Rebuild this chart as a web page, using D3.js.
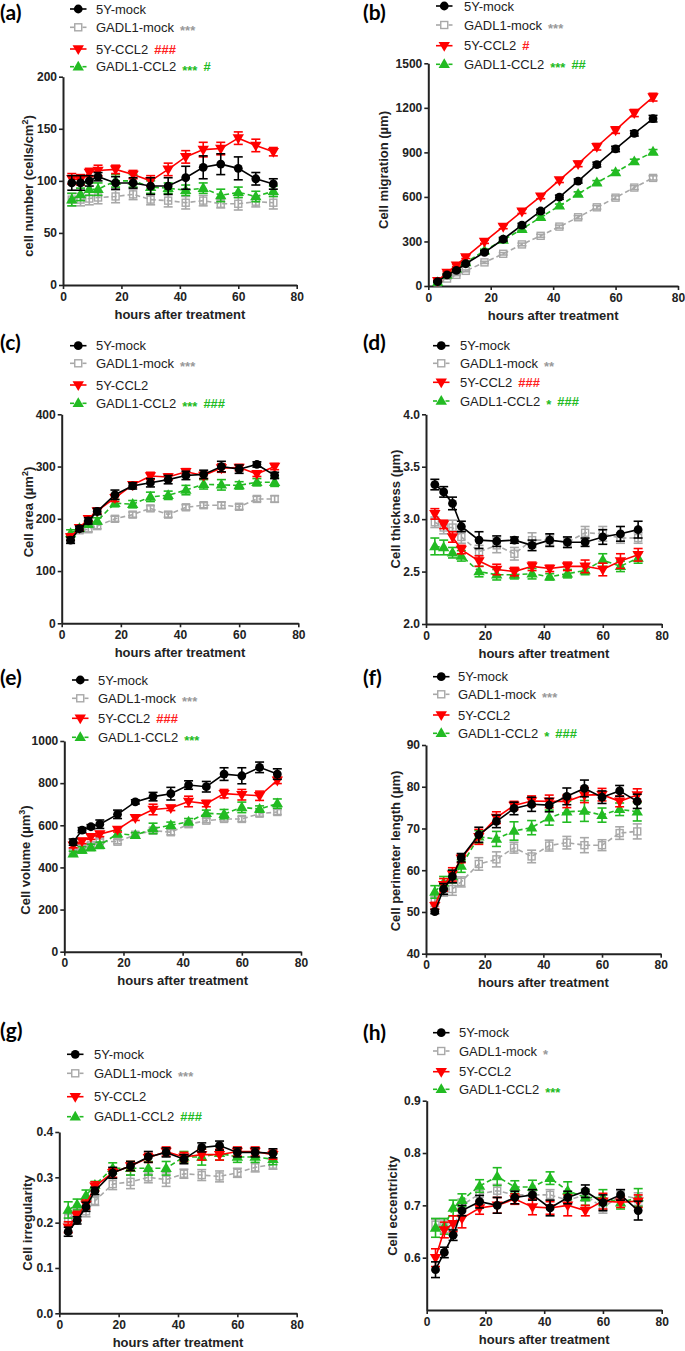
<!DOCTYPE html>

<head>
  <meta charset="utf-8">
  <title></title>
</head>
<style media="screen">
  body {
    margin: 0;
    background: white;
  }
  text {
    font-family: Arial, "Liberation Sans", Helvetica, sans-serif;
  }
  .axisTitle {
    font-weight: bold;
    font-size: 13px;
  }
  text.panelLabel {
    font-family: Lato, "Open Sans", sans-serif;
    font-weight: bold;
    font-size: 21px;
  }
  .legend text {
    font-size: 13px;
  }
</style>

<body>
  <svg id="fig" width="685" height="1351"></svg>
  <script src="https://d3js.org/d3.v7.min.js"></script>
  <script type="text/javascript">
    // time points (hours after treatment)
    var hours = [3, 6, 9, 12, 18, 24, 30, 36, 42, 48, 54, 60, 66, 72]
    var xTicks = [0, 20, 40, 60, 80]
    var seriesNames = ["5Y-mock", "GADL1-mock", "5Y-CCL2", "GADL1-CCL2"]

    // (a) cell number
    var aMock5Y = [98, 98, 100, 104, 98, 98, 95, 95, 103, 113, 116, 112, 102, 97]
    var aMockGADL = [82, 82, 83, 84, 85, 87, 82, 81, 79, 81, 78, 78, 80, 79]
    var aCcl5Y = [102, 101, 108, 110, 111, 106, 100, 111, 123, 130, 131, 141, 134, 128]
    var aCclGADL = [82, 87, 92, 92, 100, 100, 94, 93, 91, 93, 86, 89, 85, 90]
    var aErrMock5Y = [7, 7, 5, 4, 6, 5, 8, 8, 11, 11, 10, 11, 6, 5]
    var aErrMockGADL = [6, 6, 6, 6, 6, 5, 5, 6, 6, 5, 4, 6, 5, 6]
    var aErrCcl5Y = [5, 5, 4, 5, 4, 4, 5, 6, 6, 7, 6, 6, 6, 4]
    var aErrCclGADL = [6, 6, 6, 6, 6, 6, 6, 5, 5, 5, 6, 5, 5, 5]
    var aSig = ["", "***", "###", "*** #"]

    // (b) cell migration
    var bMock5Y = [30, 75, 105, 150, 227, 315, 410, 505, 598, 707, 818, 923, 1028, 1127]
    var bMockGADL = [25, 50, 75, 102, 159, 217, 280, 338, 400, 463, 530, 595, 663, 728]
    var bCcl5Y = [35, 90, 140, 195, 299, 400, 503, 604, 713, 822, 938, 1050, 1165, 1272]
    var bCclGADL = [25, 75, 117, 158, 238, 310, 383, 463, 540, 620, 696, 765, 838, 903]
    var bErrMock5Y = [4, 5, 6, 8, 10, 12, 12, 12, 14, 14, 16, 18, 18, 22]
    var bErrMockGADL = [3, 4, 5, 6, 7, 8, 9, 10, 10, 11, 12, 12, 13, 14]
    var bErrCcl5Y = [5, 6, 8, 10, 12, 14, 14, 16, 16, 18, 22, 22, 24, 26]
    var bErrCclGADL = [4, 5, 6, 8, 10, 10, 12, 12, 12, 14, 14, 14, 16, 16]
    var bSig = ["", "***", "#", "*** ##"]

    // (c) cell area
    var cMock5Y = [159, 181, 196, 214, 246, 263, 269, 275, 283, 285, 300, 295, 304, 283]
    var cMockGADL = [160, 178, 180, 186, 200, 208, 220, 208, 222, 226, 226, 223, 238, 238]
    var cCcl5Y = [165, 183, 200, 215, 240, 265, 282, 280, 290, 283, 297, 298, 286, 300]
    var cCclGADL = [172, 182, 190, 196, 230, 228, 242, 245, 255, 266, 265, 264, 270, 270]
    var cErrMock5Y = [6, 5, 6, 6, 9, 6, 8, 8, 8, 8, 10, 8, 5, 6]
    var cErrMockGADL = [5, 5, 5, 5, 5, 5, 5, 5, 5, 5, 6, 5, 5, 6]
    var cErrCcl5Y = [6, 5, 5, 5, 7, 5, 7, 6, 6, 6, 8, 6, 5, 6]
    var cErrCclGADL = [7, 6, 6, 6, 7, 7, 9, 8, 9, 9, 10, 7, 7, 8]
    var cSig = ["", "***", "", "*** ###"]

    // (d) cell thickness
    var dMock5Y = [3.33, 3.26, 3.15, 2.93, 2.80, 2.79, 2.80, 2.75, 2.80, 2.78, 2.78, 2.83, 2.86, 2.90]
    var dMockGADL = [2.97, 2.92, 2.92, 2.83, 2.69, 2.75, 2.67, 2.80, 2.80, 2.78, 2.87, 2.86, 2.82, 2.82]
    var dCcl5Y = [3.05, 2.95, 2.83, 2.71, 2.60, 2.52, 2.50, 2.55, 2.53, 2.55, 2.55, 2.52, 2.60, 2.66]
    var dCclGADL = [2.74, 2.73, 2.68, 2.65, 2.50, 2.47, 2.47, 2.48, 2.45, 2.48, 2.51, 2.61, 2.55, 2.63]
    var dErrMock5Y = [0.05, 0.05, 0.06, 0.05, 0.08, 0.05, 0.03, 0.05, 0.06, 0.05, 0.04, 0.07, 0.07, 0.08]
    var dErrMockGADL = [0.05, 0.06, 0.07, 0.06, 0.06, 0.07, 0.06, 0.07, 0.05, 0.05, 0.06, 0.07, 0.05, 0.05]
    var dErrCcl5Y = [0.05, 0.04, 0.05, 0.04, 0.05, 0.05, 0.04, 0.04, 0.03, 0.04, 0.06, 0.06, 0.07, 0.06]
    var dErrCclGADL = [0.08, 0.07, 0.05, 0.05, 0.05, 0.05, 0.04, 0.05, 0.03, 0.04, 0.04, 0.06, 0.05, 0.05]
    var dSig = ["", "**", "###", "* ###"]

    // (e) cell volume
    var eMock5Y = [520, 577, 593, 605, 652, 711, 736, 750, 791, 783, 843, 835, 875, 843]
    var eMockGADL = [475, 495, 505, 525, 522, 555, 575, 567, 605, 622, 630, 630, 655, 663]
    var eCcl5Y = [505, 525, 545, 558, 580, 635, 675, 682, 713, 703, 750, 745, 740, 813]
    var eCclGADL = [465, 483, 495, 505, 560, 553, 585, 600, 617, 657, 653, 685, 677, 703]
    var eErrMock5Y = [15, 12, 10, 20, 20, 10, 20, 30, 20, 25, 30, 38, 25, 25]
    var eErrMockGADL = [12, 10, 10, 10, 10, 10, 12, 12, 12, 10, 10, 12, 12, 12]
    var eErrCcl5Y = [12, 12, 12, 12, 12, 12, 25, 12, 25, 15, 20, 25, 22, 15]
    var eErrCclGADL = [12, 15, 15, 15, 15, 12, 25, 15, 15, 15, 22, 25, 15, 22]
    var eSig = ["", "***", "###", "***"]

    // (f) cell perimeter length
    var fMock5Y = [50.1, 55.5, 58.5, 63, 68.5, 71.7, 74.8, 75.8, 75.6, 77.7, 79.6, 77.5, 79, 76.5]
    var fMockGADL = [52.5, 55.3, 55.5, 57.2, 61.5, 62.6, 65.4, 63.3, 65.9, 66.6, 66, 66, 68.9, 69.3]
    var fCcl5Y = [51.5, 56.5, 59, 62.8, 68, 72.6, 75.5, 76.6, 76.5, 76.5, 78, 78.1, 76.5, 78]
    var fCclGADL = [54.8, 57, 58.5, 61, 68, 67.5, 69.4, 70.2, 72.6, 74, 74.2, 73.2, 74.6, 74]
    var fErrMock5Y = [0.5, 1.3, 1.5, 1.0, 1.8, 1.5, 1.5, 1.7, 1.6, 2.0, 2.0, 1.5, 1.3, 1.7]
    var fErrMockGADL = [1.2, 1.5, 1.5, 1.2, 1.5, 1.8, 1.3, 1.5, 1.3, 1.5, 1.8, 1.3, 1.5, 1.8]
    var fErrCcl5Y = [0.8, 1.5, 1.6, 1.0, 1.8, 1.4, 1.0, 1.2, 1.5, 1.5, 1.8, 1.5, 1.3, 1.5]
    var fErrCclGADL = [1.5, 1.5, 1.5, 1.5, 1.5, 1.8, 2.2, 1.7, 1.8, 2.5, 2.5, 1.7, 1.5, 2.2]
    var fSig = ["", "***", "", "* ###"]

    // (g) cell irregularity
    var gMock5Y = [0.18, 0.205, 0.235, 0.27, 0.31, 0.325, 0.345, 0.355, 0.34, 0.366, 0.37, 0.355, 0.355, 0.353]
    var gMockGADL = [0.21, 0.22, 0.225, 0.248, 0.285, 0.29, 0.30, 0.295, 0.308, 0.305, 0.302, 0.31, 0.322, 0.328]
    var gCcl5Y = [0.19, 0.215, 0.24, 0.28, 0.31, 0.325, 0.343, 0.357, 0.345, 0.35, 0.35, 0.357, 0.357, 0.35]
    var gCclGADL = [0.228, 0.24, 0.26, 0.283, 0.32, 0.32, 0.32, 0.32, 0.345, 0.345, 0.353, 0.345, 0.345, 0.34]
    var gErrMock5Y = [0.01, 0.008, 0.01, 0.008, 0.012, 0.01, 0.012, 0.01, 0.01, 0.01, 0.01, 0.01, 0.01, 0.01]
    var gErrMockGADL = [0.01, 0.012, 0.012, 0.01, 0.012, 0.015, 0.012, 0.015, 0.01, 0.012, 0.012, 0.01, 0.01, 0.01]
    var gErrCcl5Y = [0.012, 0.01, 0.01, 0.01, 0.01, 0.01, 0.01, 0.01, 0.01, 0.012, 0.012, 0.01, 0.01, 0.01]
    var gErrCclGADL = [0.018, 0.012, 0.012, 0.008, 0.012, 0.015, 0.015, 0.015, 0.012, 0.018, 0.015, 0.012, 0.012, 0.012]
    var gSig = ["", "***", "", "###"]

    // (h) cell eccentricity
    var hMock5Y = [0.577, 0.61, 0.643, 0.69, 0.707, 0.70, 0.715, 0.72, 0.695, 0.715, 0.727, 0.705, 0.72, 0.69]
    var hMockGADL = [0.663, 0.66, 0.655, 0.70, 0.722, 0.728, 0.72, 0.72, 0.72, 0.71, 0.72, 0.695, 0.72, 0.712]
    var hCcl5Y = [0.60, 0.653, 0.665, 0.675, 0.695, 0.70, 0.712, 0.697, 0.695, 0.70, 0.69, 0.708, 0.706, 0.708]
    var hCclGADL = [0.657, 0.66, 0.695, 0.71, 0.737, 0.755, 0.735, 0.735, 0.752, 0.728, 0.715, 0.715, 0.705, 0.715]
    var hErrMock5Y = [0.015, 0.01, 0.01, 0.01, 0.012, 0.015, 0.012, 0.01, 0.015, 0.012, 0.012, 0.015, 0.01, 0.018]
    var hErrMockGADL = [0.01, 0.012, 0.012, 0.012, 0.012, 0.012, 0.01, 0.01, 0.01, 0.01, 0.012, 0.01, 0.01, 0.012]
    var hErrCcl5Y = [0.017, 0.015, 0.015, 0.018, 0.012, 0.015, 0.01, 0.015, 0.012, 0.02, 0.01, 0.015, 0.01, 0.012]
    var hErrCclGADL = [0.018, 0.015, 0.015, 0.012, 0.012, 0.017, 0.012, 0.013, 0.012, 0.017, 0.015, 0.015, 0.012, 0.017]
    var hSig = ["", "*", "", "***"]

    // look of the four groups, same order as seriesNames
    var styles = [
      { color: "#000000", sig: "#000000", dash: null, shape: "circle" },
      { color: "#a8a8a8", sig: "#999999", dash: "5,3", shape: "square" },
      { color: "#ff0000", sig: "#ff2020", dash: null, shape: "down" },
      { color: "#22bb22", sig: "#22bb22", dash: "5,3", shape: "up" }
    ]

    var panels = [
      { label: "(a)", lx: 0, ly: 20, vals: [aMock5Y, aMockGADL, aCcl5Y, aCclGADL], errs: [aErrMock5Y, aErrMockGADL, aErrCcl5Y, aErrCclGADL], sig: aSig,
        dom: [0, 200], ticks: [0, 50, 100, 150, 200], fmt: d3.format("d"), yTitle: ["cell number (cells/cm", "2", ")"],
        x0: 63, x1: 296.7, y0: 76.7, y1: 285, ytX: 28, ytY: 186, legLine: 70, legText: 96, legY: [9, 27.3, 49, 66.7] },
      { label: "(b)", lx: 363, ly: 20, vals: [bMock5Y, bMockGADL, bCcl5Y, bCclGADL], errs: [bErrMock5Y, bErrMockGADL, bErrCcl5Y, bErrCclGADL], sig: bSig,
        dom: [0, 1500], ticks: [0, 300, 600, 900, 1200, 1500], fmt: d3.format("d"), yTitle: ["Cell migration (\u00b5m)"],
        x0: 428.3, x1: 678, y0: 63.3, y1: 286, ytX: 383, ytY: 170, legLine: 436, legText: 464, legY: [6, 25, 45.7, 64.3] },
      { label: "(c)", lx: 0, ly: 350, vals: [cMock5Y, cMockGADL, cCcl5Y, cCclGADL], errs: [cErrMock5Y, cErrMockGADL, cErrCcl5Y, cErrCclGADL], sig: cSig,
        dom: [0, 400], ticks: [0, 100, 200, 300, 400], fmt: d3.format("d"), yTitle: ["Cell area (\u00b5m", "2", ")"],
        x0: 61.7, x1: 298.3, y0: 414.3, y1: 623.3, ytX: 28, ytY: 512, legLine: 70, legText: 96, legY: [345.7, 363.3, 385, 403.3] },
      { label: "(d)", lx: 363, ly: 350, vals: [dMock5Y, dMockGADL, dCcl5Y, dCclGADL], errs: [dErrMock5Y, dErrMockGADL, dErrCcl5Y, dErrCclGADL], sig: dSig,
        dom: [2, 4], ticks: [2, 2.5, 3, 3.5, 4], fmt: d3.format(".1f"), yTitle: ["Cell thickness (\u00b5m)"],
        x0: 426, x1: 661.7, y0: 414.3, y1: 624, ytX: 395, ytY: 509, legLine: 433, legText: 460, legY: [345.7, 363.3, 382.3, 401] },
      { label: "(e)", lx: 0, ly: 685, vals: [eMock5Y, eMockGADL, eCcl5Y, eCclGADL], errs: [eErrMock5Y, eErrMockGADL, eErrCcl5Y, eErrCclGADL], sig: eSig,
        dom: [0, 1000], ticks: [0, 200, 400, 600, 800, 1000], fmt: d3.format("d"), yTitle: ["Cell volume (\u00b5m", "3", ")"],
        x0: 64.3, x1: 301, y0: 741, y1: 951.7, ytX: 25, ytY: 860, legLine: 72, legText: 98, legY: [680, 698.3, 718.3, 737.3] },
      { label: "(f)", lx: 363, ly: 685, vals: [fMock5Y, fMockGADL, fCcl5Y, fCclGADL], errs: [fErrMock5Y, fErrMockGADL, fErrCcl5Y, fErrCclGADL], sig: fSig,
        dom: [40, 90], ticks: [40, 50, 60, 70, 80, 90], fmt: d3.format("d"), yTitle: ["Cell perimeter length (\u00b5m)"],
        x0: 426, x1: 660.7, y0: 745, y1: 953.7, ytX: 395, ytY: 851, legLine: 433, legText: 458, legY: [676.7, 694.3, 715, 733.3] },
      { label: "(g)", lx: 0, ly: 1038, vals: [gMock5Y, gMockGADL, gCcl5Y, gCclGADL], errs: [gErrMock5Y, gErrMockGADL, gErrCcl5Y, gErrCclGADL], sig: gSig,
        dom: [0, 0.4], ticks: [0, 0.1, 0.2, 0.3, 0.4], fmt: d3.format(".1f"), yTitle: ["Cell irregularity"],
        x0: 59.3, x1: 296.7, y0: 1132, y1: 1313.3, ytX: 27, ytY: 1223, legLine: 67, legText: 94, legY: [1054.3, 1073.3, 1096.7, 1116.7] },
      { label: "(h)", lx: 363, ly: 1039.5, vals: [hMock5Y, hMockGADL, hCcl5Y, hCclGADL], errs: [hErrMock5Y, hErrMockGADL, hErrCcl5Y, hErrCclGADL], sig: hSig,
        dom: [0.5, 0.9], ticks: [0.6, 0.7, 0.8, 0.9], fmt: d3.format(".1f"), yTitle: ["Cell eccentricity"],
        x0: 426.7, x1: 661.7, y0: 1100.7, y1: 1310, ytX: 392, ytY: 1206, legLine: 433, legText: 459, legY: [1032.7, 1051, 1071.7, 1089.3] }
    ]

    var svg = d3.select("#fig")

    function marker(sel, s, cx, cy) {
      if (s.shape == "circle") {
        sel.append("circle").attr("cx", cx).attr("cy", cy).attr("r", 4.4).attr("fill", s.color)
      } else if (s.shape == "square") {
        sel.append("rect").attr("x", cx - 3.5).attr("y", cy - 3.5).attr("width", 7).attr("height", 7)
          .attr("fill", "none").attr("stroke", s.color).attr("stroke-width", 1.4)
      } else {
        var rot = s.shape == "down" ? 180 : 0
        sel.append("path").attr("d", d3.symbol(d3.symbolTriangle, 56)())
          .attr("transform", "translate(" + cx + "," + (cy + (rot ? -0.5 : 0.5)) + ") rotate(" + rot + ")")
          .attr("fill", s.color)
      }
    }

    function drawPanel(p) {
      var g = svg.append("g")
      var x = d3.scaleLinear().domain([0, 80]).range([p.x0, p.x1])
      var y = d3.scaleLinear().domain(p.dom).range([p.y1, p.y0])

      var xAx = g.append("g").attr("transform", "translate(0," + p.y1 + ")")
        .call(d3.axisBottom(x).tickValues(xTicks).tickSize(4).tickSizeOuter(0).tickPadding(3))
      var yAx = g.append("g").attr("transform", "translate(" + p.x0 + ",0)")
        .call(d3.axisLeft(y).tickValues(p.ticks).tickSize(4).tickSizeOuter(0).tickPadding(2).tickFormat(p.fmt))
      ;[xAx, yAx].forEach(a => {
        a.attr("font-family", "Arial, 'Liberation Sans', sans-serif").attr("font-size", 12).attr("font-weight", "bold")
        a.select(".domain").attr("stroke-width", 2).attr("stroke", "#222")
        a.selectAll(".tick line").attr("stroke-width", 1.6).attr("stroke", "#222")
        a.selectAll(".tick text").attr("fill", "#222")
      })

      // axis titles
      g.append("text").attr("class", "axisTitle")
        .attr("x", (p.x0 + p.x1) / 2).attr("y", p.y1 + 33.5)
        .attr("text-anchor", "middle").attr("fill", "#222")
        .text("hours after treatment")
      var yt = g.append("text").attr("class", "axisTitle")
        .attr("transform", "translate(" + p.ytX + "," + p.ytY + ") rotate(-90)")
        .attr("text-anchor", "middle").attr("dy", "0.35em").attr("fill", "#222")
      yt.append("tspan").text(p.yTitle[0])
      if (p.yTitle.length > 1) {
        yt.append("tspan").attr("dy", -5).attr("font-size", 9).text(p.yTitle[1])
        yt.append("tspan").attr("dy", 5).text(p.yTitle[2])
      }

      // series: draw grey, green, red, black
      var line = d3.line().x((d, i) => x(hours[i])).y(d => y(d))
      ;[1, 3, 2, 0].forEach(k => {
        var s = styles[k], vals = p.vals[k], errs = p.errs[k]
        var sg = g.append("g")
        sg.append("path").attr("d", line(vals)).attr("fill", "none")
          .attr("stroke", s.color).attr("stroke-width", 1.6)
          .attr("stroke-dasharray", s.dash)
        vals.forEach((v, i) => {
          var cx = x(hours[i])
          var lo = y(v - errs[i]), hi = y(v + errs[i])
          sg.append("line").attr("x1", cx).attr("x2", cx).attr("y1", lo).attr("y2", hi)
            .attr("stroke", s.color).attr("stroke-width", 1.6)
          ;[lo, hi].forEach(yy => sg.append("line").attr("x1", cx - 4.5).attr("x2", cx + 4.5)
            .attr("y1", yy).attr("y2", yy).attr("stroke", s.color).attr("stroke-width", 1.6))
          marker(sg, s, cx, y(v))
        })
      })

      // panel label
      g.append("text").attr("class", "panelLabel").attr("x", p.lx).attr("y", p.ly).text(p.label)

      // legend
      var leg = g.append("g").attr("class", "legend")
      seriesNames.forEach((name, k) => {
        var s = styles[k], ly = p.legY[k]
        if (s.dash) {
          leg.append("line").attr("x1", p.legLine).attr("x2", p.legLine + 4).attr("y1", ly).attr("y2", ly)
            .attr("stroke", s.color).attr("stroke-width", 1.6)
          leg.append("line").attr("x1", p.legLine + 12.5).attr("x2", p.legLine + 16.5).attr("y1", ly).attr("y2", ly)
            .attr("stroke", s.color).attr("stroke-width", 1.6)
        } else {
          leg.append("line").attr("x1", p.legLine).attr("x2", p.legLine + 16.5).attr("y1", ly).attr("y2", ly)
            .attr("stroke", s.color).attr("stroke-width", 1.6)
        }
        marker(leg, s, p.legLine + 8.25, ly)
        var t = leg.append("text").attr("x", p.legText).attr("y", ly).attr("dy", "0.36em")
          .attr("fill", "#222").text(name)
        // significance marks: stars drawn larger, hashes as plain bold text
        var cur = p.legText + t.node().getComputedTextLength() + 6
        p.sig[k].split(" ").filter(tok => tok).forEach(tok => {
          var star = tok[0] == "*"
          var st = leg.append("text").attr("x", cur).attr("y", ly)
            .attr("dy", star ? 8 : 4.6)
            .attr("font-size", star ? 23 : 13).attr("font-weight", "bold")
            .attr("fill", s.sig).text(tok)
          cur += st.node().getComputedTextLength() + 6
        })
      })
    }

    panels.forEach(drawPanel)
  </script>
</body>

</html>
